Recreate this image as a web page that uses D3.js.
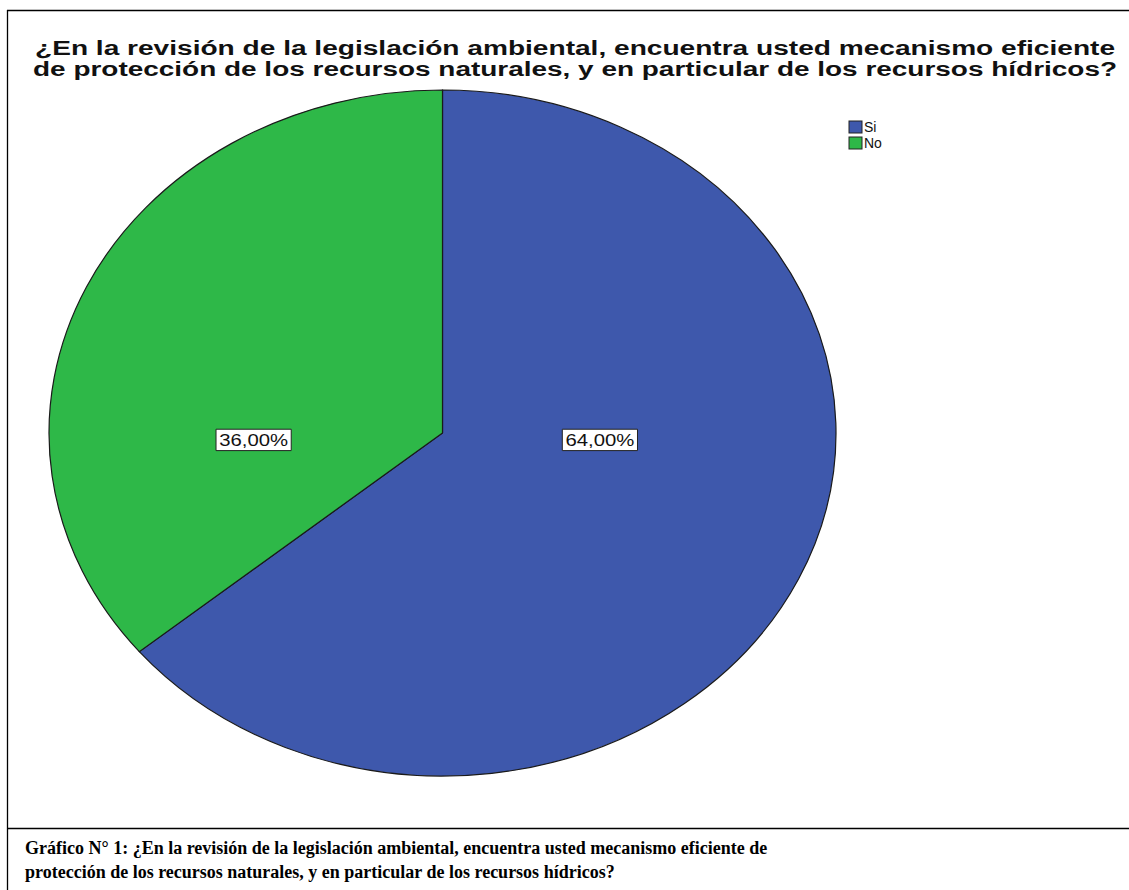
<!DOCTYPE html>
<html>
<head>
<meta charset="utf-8">
<script src="https://cdn.jsdelivr.net/npm/d3@7"></script>
<style>
  html, body { margin: 0; padding: 0; background: #fff; }
  svg { display: block; }
</style>
</head>
<body>
<svg id="chart" width="1129" height="890"></svg>
<script>
// Survey answers and their shares (percent)
const categories = ["Si", "No"];
const shares = [64.00, 36.00];
const colors = ["#3E58AC", "#2EB848"];
const titleLines = [
  "¿En la revisión de la legislación ambiental, encuentra usted mecanismo eficiente",
  "de protección de los recursos naturales, y en particular de los recursos hídricos?"
];
const captionLines = [
  "Gráfico N° 1: ¿En la revisión de la legislación ambiental, encuentra usted mecanismo eficiente de",
  "protección de los recursos naturales, y en particular de los recursos hídricos?"
];

const svg = d3.select("#chart");

// Frame around the chart panel and the caption area
const frame = svg.append("g").attr("stroke", "#000").attr("stroke-width", 1.3).attr("fill", "none");
frame.append("line").attr("x1", 7).attr("y1", 10.5).attr("x2", 1129).attr("y2", 10.5);
frame.append("line").attr("x1", 7.5).attr("y1", 10).attr("x2", 7.5).attr("y2", 890);
frame.append("line").attr("x1", 7).attr("y1", 828.5).attr("x2", 1129).attr("y2", 828.5);

// Title (the chart export is stretched horizontally, so the lines are fitted to width)
svg.append("g")
  .selectAll("text")
  .data(titleLines)
  .join("text")
  .attr("x", 575)
  .attr("y", (d, i) => 55 + i * 20.5)
  .attr("text-anchor", "middle")
  .attr("font-family", "Liberation Sans, Arial, sans-serif")
  .attr("font-weight", "bold")
  .attr("font-size", 20)
  .attr("textLength", (d, i) => i === 0 ? 1080 : 1084)
  .attr("lengthAdjust", "spacingAndGlyphs")
  .attr("fill", "#111")
  .text(d => d);

// Pie (drawn on a unit circle, stretched into an ellipse)
const cx = 442.5, cy = 433, rx = 393.5, ry = 343, R = 100;
const stretch = 1.27;
const color = d3.scaleOrdinal().domain(categories).range(colors);
const pie = d3.pie().sort(null).value(d => d.value);
const arc = d3.arc().innerRadius(0).outerRadius(R);
const data = categories.map((c, i) => ({ cat: c, value: shares[i] }));
const arcs = pie(data);

const pieG = svg.append("g")
  .attr("transform", `translate(${cx},${cy}) scale(${rx / R},${ry / R})`);
pieG.selectAll("path")
  .data(arcs)
  .join("path")
  .attr("d", arc)
  .attr("fill", d => color(d.data.cat))
  .attr("stroke", "#1a1a1a")
  .attr("stroke-width", 1.2)
  .attr("vector-effect", "non-scaling-stroke");

// Value labels, placed on the horizontal through the centre on the side of each slice
const labelReach = { Si: 0.40, No: 0.48 };
const fmt = v => d3.format(".2f")(v).replace(".", ",") + "%";
const labelG = svg.append("g");
arcs.forEach(d => {
  const mid = (d.startAngle + d.endAngle) / 2;
  const side = Math.sign(Math.sin(mid));
  const x = cx + side * labelReach[d.data.cat] * rx;
  const y = cy + 7;
  const g = labelG.append("g").attr("transform", `translate(${x},${y}) scale(${stretch},1)`);
  const t = g.append("text")
    .attr("text-anchor", "middle")
    .attr("dy", "0.35em")
    .attr("font-family", "Liberation Sans, Arial, sans-serif")
    .attr("font-size", 16)
    .attr("fill", "#111")
    .text(fmt(d.data.value));
  const bb = t.node().getBBox();
  g.insert("rect", "text")
    .attr("x", bb.x - 2.5)
    .attr("y", bb.y - 1.5)
    .attr("width", bb.width + 5)
    .attr("height", bb.height + 3)
    .attr("fill", "#fff")
    .attr("stroke", "#222")
    .attr("stroke-width", 1)
    .attr("vector-effect", "non-scaling-stroke");
});

// Legend
const legend = svg.append("g").attr("transform", "translate(849,121)");
const item = legend.selectAll("g")
  .data(categories)
  .join("g")
  .attr("transform", (d, i) => `translate(0,${i * 16})`);
item.append("rect")
  .attr("width", 13).attr("height", 12)
  .attr("fill", d => color(d))
  .attr("stroke", "#222").attr("stroke-width", 1);
item.append("text")
  .attr("x", 15).attr("y", 6).attr("dy", "0.35em")
  .attr("font-family", "Liberation Sans, Arial, sans-serif")
  .attr("font-size", 14)
  .attr("fill", "#111")
  .text(d => d);

// Caption
svg.append("g")
  .selectAll("text")
  .data(captionLines)
  .join("text")
  .attr("x", 25)
  .attr("y", (d, i) => 854 + i * 24)
  .attr("font-family", "Liberation Serif, Times New Roman, serif")
  .attr("font-weight", "bold")
  .attr("font-size", 18)
  .attr("fill", "#000")
  .text(d => d);
</script>
</body>
</html>
